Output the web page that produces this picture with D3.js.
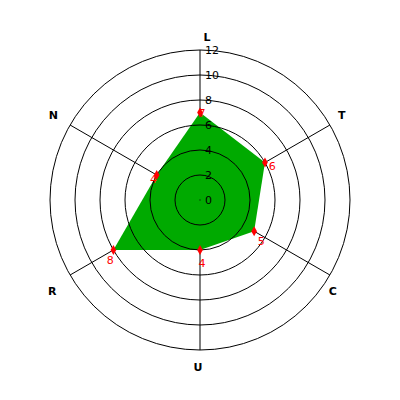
<!DOCTYPE html>
<html>
<head>
<script src="https://cdn.jsdelivr.net/npm/d3@7"></script>
<style>
body { margin: 0; padding: 0; background: #fff; }
text { font-family: "DejaVu Sans", sans-serif; }
</style>
</head>
<body>
<svg></svg>
<script>
var axes = ['L', 'T', 'C', 'U', 'R', 'N'];
var values = [7, 6, 5, 4, 8, 4];
var ticks = [0, 2, 4, 6, 8, 10, 12];

var width = 400, height = 400, cx = 200, cy = 200;
var svg = d3.select('svg').attr('width', width).attr('height', height);

var r = d3.scaleLinear().domain([0, 12]).range([0, 150]);

function ang(i) { return i * 2 * Math.PI / axes.length; }
function px(i, v) { return cx + r(v) * Math.sin(ang(i)); }
function py(i, v) { return cy - r(v) * Math.cos(ang(i)); }

// small nudges for the axis titles, as in the original
var titleNudge = {
  L: [7, 3], T: [-2, -2], C: [-11, 8],
  U: [-2, 1], R: [-4, 8], N: [-3, -2]
};

var g = svg.append('g');

// spokes (under the area)
g.selectAll('line.spoke')
  .data(axes)
  .enter().append('line')
  .attr('x1', cx).attr('y1', cy)
  .attr('x2', function(d, i) { return px(i, 12); })
  .attr('y2', function(d, i) { return py(i, 12); })
  .attr('stroke', '#000')
  .attr('stroke-width', 1);

// data area
var pts = values.map(function(v, i) { return [px(i, v), py(i, v)]; });
g.append('path')
  .attr('d', d3.line()(pts) + 'Z')
  .attr('fill', '#00aa00')
  .attr('stroke', 'none');

// rings (over the area)
g.selectAll('circle.ring')
  .data(ticks.filter(function(t) { return t > 0; }))
  .enter().append('circle')
  .attr('class', 'ring')
  .attr('cx', cx).attr('cy', cy)
  .attr('r', function(d) { return r(d); })
  .attr('fill', 'none')
  .attr('stroke', '#000')
  .attr('stroke-width', 1);

// tick labels
g.selectAll('text.tick')
  .data(ticks)
  .enter().append('text')
  .attr('x', cx + 5)
  .attr('y', function(d) { return cy - r(d); })
  .attr('dy', '0.35em')
  .attr('font-size', 11)
  .attr('fill', '#000')
  .text(function(d) { return d; });

// center dot
g.append('rect').attr('x', cx - 0.5).attr('y', cy - 0.5).attr('width', 1).attr('height', 1).attr('fill', '#000');

// axis titles
g.selectAll('text.axis')
  .data(axes)
  .enter().append('text')
  .attr('x', function(d, i) { return cx + 166 * Math.sin(ang(i)) + titleNudge[d][0]; })
  .attr('y', function(d, i) { return cy - 166 * Math.cos(ang(i)) + titleNudge[d][1]; })
  .attr('dy', '0.35em')
  .attr('text-anchor', 'middle')
  .attr('font-size', 11)
  .attr('font-weight', 'bold')
  .attr('fill', '#000')
  .text(function(d) { return d; });

// markers
g.selectAll('path.marker')
  .data(values)
  .enter().append('path')
  .attr('d', d3.symbol().type(d3.symbolDiamond).size(28))
  .attr('transform', function(d, i) { return 'translate(' + px(i, d) + ',' + py(i, d) + ')'; })
  .attr('fill', '#ff0000');

// value labels
g.selectAll('text.val')
  .data(values)
  .enter().append('text')
  .attr('x', function(d, i) { return px(i, d) + 6 * Math.sin(ang(i)) + 2; })
  .attr('y', function(d, i) { return py(i, d) - 6 * Math.cos(ang(i)) + 7; })
  .attr('dy', '0.35em')
  .attr('text-anchor', 'middle')
  .attr('font-size', 11)
  .attr('fill', '#ff0000')
  .text(function(d) { return d; });
</script>
</body>
</html>
